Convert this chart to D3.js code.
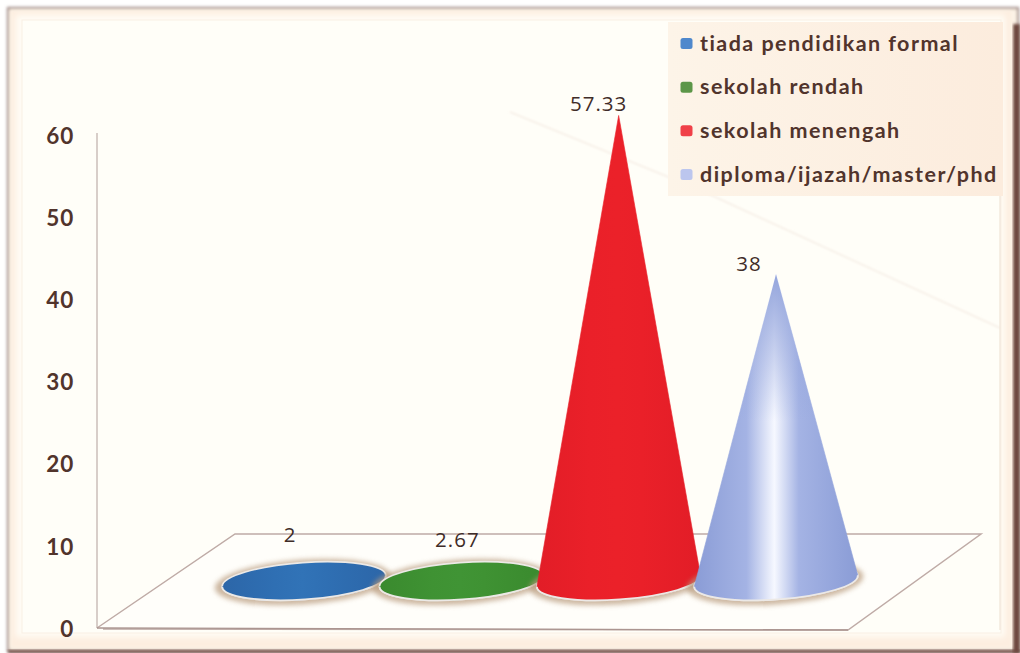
<!DOCTYPE html>
<html><head><meta charset="utf-8">
<script src="https://cdnjs.cloudflare.com/ajax/libs/d3/7.8.5/d3.min.js"></script>
<style>html,body{margin:0;padding:0;background:#fff}svg{display:block}</style>
</head><body><svg id="c" width="1020" height="653"></svg>
<script>
const categories = ["tiada pendidikan formal","sekolah rendah","sekolah menengah","diploma/ijazah/master/phd"];
const values = [2,2.67,57.33,38];
const valueLabels = ["2","2.67","57.33","38"];
const tickValues = [0,10,20,30,40,50,60];
const baseColors = ["#2f6fb3","#3f9233","#ea2029","#a4b3e4"];
const edgeColors = ["#2c66a8","#3a8a2e","#e21d27","#8a9cd6"];
const midColors = ["#3173b7","#409435","#eb2129","#f6f8ff"];
const legendColors = ["#4f88cc","#5c9648","#f04048","#bcc6ee"];
const textColor = "#51342c";

const svg = d3.select("#c");
const defs = svg.append("defs");
const y = d3.scaleLinear().domain([0,60]).range([628,135]);
const x = d3.scalePoint().domain(categories).range([304,776]);
const rx = 82, ry = 18.5, tilt = -4, baseLift = 47, apexLift = 41.5;
const labelDX = [-14,-4,-20,-27], labelDY = [-28,-18,-4,-3];

const f = defs.append("filter").attr("id","sh").attr("x","-20%").attr("y","-50%").attr("width","140%").attr("height","200%");
f.append("feGaussianBlur").attr("stdDeviation",2.4);
defs.append("filter").attr("id","soft").append("feGaussianBlur").attr("stdDeviation",0.6);
defs.append("filter").attr("id","streak").append("feGaussianBlur").attr("stdDeviation",1);
defs.append("filter").attr("id","frameBlur").append("feGaussianBlur").attr("stdDeviation",1.6);
defs.append("filter").attr("id","bandBlur").append("feGaussianBlur").attr("stdDeviation",3);
categories.forEach((c,i)=>{
  const g = defs.append("linearGradient").attr("id","g"+i).attr("x1",0).attr("x2",1).attr("y1",0).attr("y2",0);
  g.append("stop").attr("offset","0%").attr("stop-color",edgeColors[i]);
  g.append("stop").attr("offset","32%").attr("stop-color",baseColors[i]);
  g.append("stop").attr("offset","49%").attr("stop-color",midColors[i]);
  g.append("stop").attr("offset","64%").attr("stop-color",baseColors[i]);
  g.append("stop").attr("offset","100%").attr("stop-color",edgeColors[i]);
});
const fade = defs.append("linearGradient").attr("id","tipFade").attr("x1",0).attr("x2",0).attr("y1",0).attr("y2",1);
fade.append("stop").attr("offset","0%").attr("stop-color","#94a5dc").attr("stop-opacity",1);
fade.append("stop").attr("offset","45%").attr("stop-color","#94a5dc").attr("stop-opacity",0);
const lg = defs.append("linearGradient").attr("id","leg").attr("x1",0).attr("x2",1).attr("y1",0).attr("y2",0);
lg.append("stop").attr("offset","0%").attr("stop-color","#fdf4e8");
lg.append("stop").attr("offset","100%").attr("stop-color","#fcecdd");

// frame
const fr = svg.append("g");
fr.append("rect").attr("x",8).attr("y",8).attr("width",1010).attr("height",643).attr("fill","#fdf3e6").attr("stroke","#a08a86").attr("stroke-width",2.2).attr("filter","url(#frameBlur)");
fr.append("rect").attr("x",1013).attr("y",24).attr("width",7).attr("height",629).attr("fill","#6e4a40").attr("filter","url(#frameBlur)");
fr.append("rect").attr("x",8).attr("y",650).attr("width",1012).attr("height",3).attr("fill","#6e4a40").attr("filter","url(#frameBlur)");
fr.append("rect").attr("x",11).attr("y",11).attr("width",1000).attr("height",636).attr("fill","#fdeee0").attr("filter","url(#frameBlur)");
fr.append("rect").attr("x",16).attr("y",15).attr("width",989).attr("height",622).attr("fill","#fffdf6").attr("filter","url(#bandBlur)");
fr.append("rect").attr("x",22).attr("y",20).attr("width",979).attr("height",613).attr("fill","#fffef8").attr("stroke","#f9efe4").attr("stroke-width",1);

// faint background streaks
svg.append("path").attr("d",d3.line()([[510,112],[700,190],[1000,328]])).attr("fill","none").attr("stroke","#f6eee6").attr("stroke-width",1.5).attr("filter","url(#streak)");
svg.append("line").attr("x1",1000).attr("x2",1000).attr("y1",196).attr("y2",630).attr("stroke","#f0e4d8").attr("stroke-width",1.2);

// legend
const lx = 668, lyTop = 22;
svg.append("rect").attr("x",lx).attr("y",lyTop).attr("width",335).attr("height",174).attr("fill","url(#leg)").attr("filter","url(#soft)");
const legY = d3.scalePoint().domain(categories).range([43.5,174.5]);
const leg = svg.append("g").selectAll("g").data(categories).join("g").attr("transform",d=>`translate(0,${legY(d)})`);
leg.append("rect").attr("x",680.5).attr("y",-5.5).attr("width",12).attr("height",11).attr("rx",2.5).attr("fill",(d,i)=>legendColors[i]);
leg.append("text").attr("x",700).attr("y",7).text(d=>d)
  .attr("font-family","Lato, 'Open Sans', sans-serif").attr("font-weight",700).attr("font-size",21.5).attr("letter-spacing",1.45).attr("fill",textColor);

// wall + floor
const axisX = 97, axisY = y(0);
svg.append("line").attr("x1",axisX).attr("x2",axisX).attr("y1",y(60)-2).attr("y2",axisY).attr("stroke","#cfc2bd").attr("stroke-width",1.6);
const floor = d3.line()([[axisX,axisY],[235,534],[981,534],[848,630],[axisX+6,axisY+1]]);
svg.append("path").attr("d",floor).attr("fill","#fffefa").attr("stroke","#bfaba6").attr("stroke-width",1.5);
svg.append("line").attr("x1",axisX).attr("x2",848).attr("y1",axisY).attr("y2",630).attr("stroke","#ab9590").attr("stroke-width",1.3);

// axis labels
const axis = d3.axisLeft(y).tickValues(tickValues).tickSize(0).tickPadding(0);
const ax = svg.append("g").attr("transform","translate(74,1)").call(axis);
ax.select(".domain").remove();
ax.selectAll("text").attr("font-family","Lato, 'Open Sans', sans-serif").attr("font-weight",700).attr("font-size",22.5).attr("letter-spacing",0.8).attr("fill",textColor);

// cones
const a = tilt*Math.PI/180, c = Math.cos(a), s = Math.sin(a);
const by = y(0) - baseLift;
const conePath = (d,i)=>{
  const apexY = y(values[i]) - apexLift;
  const lxx = x(d)-rx*c, ly = by-rx*s, rX = x(d)+rx*c, rY = by+rx*s;
  return `M${lxx},${ly}A${rx},${ry} ${tilt} 0 0 ${rX},${rY}L${x(d)},${apexY}Z`;
};
const cones = svg.append("g").selectAll("g").data(categories).join("g");
cones.append("ellipse").attr("cx",d=>x(d)-1).attr("cy",by+1).attr("rx",rx+6.5).attr("ry",ry+4)
  .attr("transform",d=>`rotate(${tilt} ${x(d)} ${by})`).attr("fill","#b89a7c").attr("opacity",0.7).attr("filter","url(#sh)");
cones.append("ellipse").attr("class","base").attr("cx",d=>x(d)).attr("cy",by).attr("rx",rx).attr("ry",ry)
  .attr("transform",d=>`rotate(${tilt} ${x(d)} ${by})`)
  .attr("fill",(d,i)=>`url(#g${i})`).attr("stroke","#ece9e6").attr("stroke-width",1.8);
cones.append("path").attr("d",conePath).attr("fill",(d,i)=>`url(#g${i})`).attr("stroke",(d,i)=>`url(#g${i})`).attr("stroke-width",0.6).attr("stroke-linejoin","round");
// the lavender cone's highlight dies out toward its tip
cones.filter((d,i)=>i===3).append("path").attr("d",d=>conePath(d,3)).attr("fill","url(#tipFade)");
// pale rim under each cone
cones.append("path").attr("d",d=>{
    const lxx = x(d)-rx*c, ly = by-rx*s, rX = x(d)+rx*c, rY = by+rx*s;
    return `M${lxx},${ly}A${rx},${ry} ${tilt} 0 0 ${rX},${rY}`;
  }).attr("fill","none").attr("stroke","#ece9e6").attr("stroke-width",1.8);
cones.append("text").attr("x",(d,i)=>x(d)+labelDX[i]).attr("y",(d,i)=>y(values[i])-apexLift+labelDY[i])
  .attr("text-anchor","middle").text((d,i)=>valueLabels[i])
  .attr("font-family","'Open Sans', Lato, sans-serif").attr("font-weight",500).attr("font-size",20.5).attr("letter-spacing",1).attr("fill","#3f2c28");
</script></body></html>
